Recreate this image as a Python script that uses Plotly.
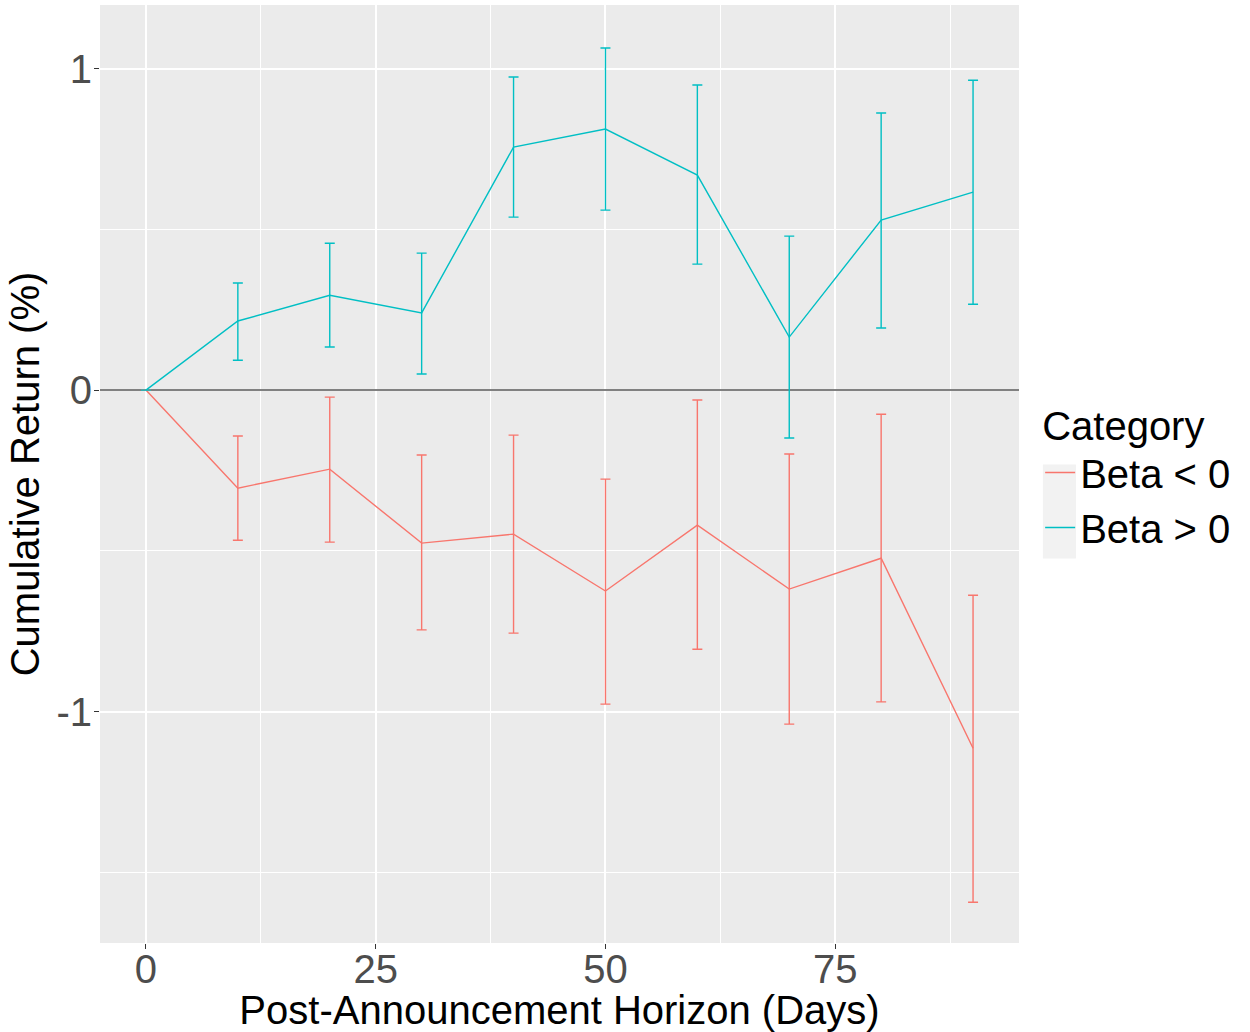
import plotly.graph_objects as go

horizon = [0, 10, 20, 30, 40, 50, 60, 70, 80, 90]

neg_mean = [0, -0.305, -0.246, -0.476, -0.448, -0.625, -0.420, -0.619, -0.523, -1.114]
neg_low = [0, -0.467, -0.473, -0.746, -0.756, -0.977, -0.806, -1.039, -0.970, -1.593]
neg_high = [0, -0.143, -0.022, -0.202, -0.140, -0.277, -0.031, -0.199, -0.075, -0.638]

pos_mean = [0, 0.215, 0.295, 0.240, 0.756, 0.812, 0.669, 0.165, 0.529, 0.616]
pos_low = [0, 0.093, 0.134, 0.050, 0.538, 0.560, 0.392, -0.149, 0.193, 0.267]
pos_high = [0, 0.333, 0.457, 0.426, 0.974, 1.064, 0.949, 0.479, 0.862, 0.964]

series = [
    ("Beta < 0", neg_mean, neg_low, neg_high, "#F8766D"),
    ("Beta > 0", pos_mean, pos_low, pos_high, "#00BFC4"),
]

FONT = "Liberation Sans, Helvetica, Arial, sans-serif"

fig = go.Figure()
for name, m, lo, hi, col in series:
    fig.add_trace(go.Scatter(
        x=horizon, y=m, mode="lines", name=name,
        line=dict(color=col, width=1.4),
        error_y=dict(type="data", symmetric=False,
                     array=[h - v for h, v in zip(hi, m)],
                     arrayminus=[v - l for l, v in zip(lo, m)],
                     color=col, thickness=1.4, width=5),
    ))

# legend key background
fig.add_shape(type="rect", xref="paper", yref="paper",
              x0=1.026, x1=1.062, y0=0.41, y1=0.51,
              fillcolor="#F2F2F2", line=dict(width=0), layer="below")

fig.update_layout(
    width=1250, height=1032,
    margin=dict(l=100, r=231, t=5, b=89, autoexpand=False),
    paper_bgcolor="white", plot_bgcolor="#EBEBEB",
    font=dict(family=FONT, size=40, color="black"),
    legend=dict(
        title=dict(text="Category", font=dict(size=40)),
        font=dict(size=40),
        x=1.023, xanchor="left", y=0.5, yanchor="middle",
        bgcolor="rgba(0,0,0,0)", tracegroupgap=0,
        itemwidth=30,
    ),
    xaxis=dict(
        range=[-5, 95], tickvals=[0, 25, 50, 75], ticktext=["0", "25", "50", "75"],
        showgrid=True, gridcolor="white", gridwidth=1.6,
        minor=dict(tickvals=[12.5, 37.5, 62.5, 87.5], showgrid=True, gridcolor="white", gridwidth=0.8),
        ticks="outside", ticklen=5, tickcolor="#333333", tickwidth=1.2,
        tickfont=dict(size=40, color="#4D4D4D"),
        ticklabelstandoff=-14,
        zeroline=False, showline=False, automargin=False,
        title=dict(text="Post-Announcement Horizon (Days)", font=dict(size=40), standoff=2),
    ),
    yaxis=dict(
        range=[-1.72, 1.198], tickvals=[-1, 0, 1], ticktext=["-1", "0", "1"],
        showgrid=True, gridcolor="white", gridwidth=1.6,
        minor=dict(tickvals=[-1.5, -0.5, 0.5], showgrid=True, gridcolor="white", gridwidth=0.8),
        ticks="outside", ticklen=5, tickcolor="#333333", tickwidth=1.2,
        tickfont=dict(size=40, color="#4D4D4D"),
        ticklabelstandoff=-6,
        zeroline=True, zerolinecolor="#808080", zerolinewidth=1.6,
        showline=False, automargin=False,
        title=dict(text="Cumulative Return (%)", font=dict(size=40), standoff=4),
    ),
)

fig.write_html("out.html")
